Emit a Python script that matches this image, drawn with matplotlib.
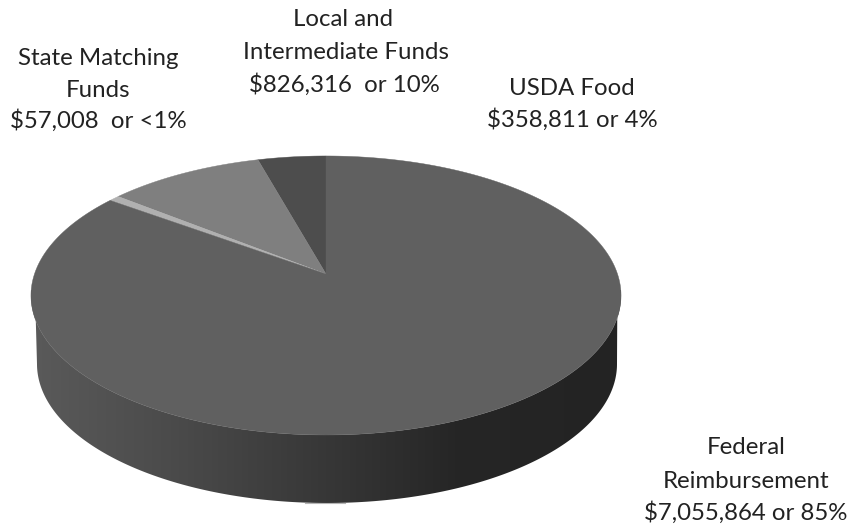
import numpy as np
import matplotlib
matplotlib.use("Agg")
import matplotlib.pyplot as plt
from matplotlib.colors import LinearSegmentedColormap
from matplotlib.patches import Polygon

categories = ["USDA Food", "Local and Intermediate Funds", "State Matching Funds", "Federal Reimbursement"]
values = [358811, 826316, 57008, 7055864]
top_colors = ["#4d4d4d", "#7f7f7f", "#b0b0b0", "#606060"]
label_lines = [
    ["USDA Food", "$358,811 or 4%"],
    ["Local and", "Intermediate Funds", "$826,316  or 10%"],
    ["State Matching", "Funds", "$57,008  or <1%"],
    ["Federal", "Reimbursement", "$7,055,864 or 85%"],
]
label_x = [[572, 572], [343.5, 346, 344], [98.5, 98.5, 98.5], [746, 746, 746]]
label_y = [[95, 127], [26, 59, 92], [65, 97, 128], [454, 488, 520]]

plt.rcParams["font.family"] = ["Lato", "DejaVu Sans"]
fig = plt.figure(figsize=(8.5, 5.27), dpi=100)
ax = fig.add_axes([0, 0, 1, 1])
ax.set_xlim(0, 850)
ax.set_ylim(527, 0)
ax.axis("off")

CX, CY = 326.0, 274.0   # apex of the tilted pie
B, A, K = 291.5, 136.2, 0.154


def project(theta):
    x, y = np.cos(theta), np.sin(theta)
    d = 1 + K * y
    return CX + B * x / d, CY - A * y / d


# side wall with horizontal shading
low = np.linspace(np.pi, 2 * np.pi, 361)
lx, ly = project(low)
bx = 327 + 290 * np.cos(low)
by = 364 - 139 * np.sin(low)
side = np.vstack([
    np.column_stack([[lx[0]], [ly[0]]]),
    np.column_stack([bx, by]),
    np.column_stack([[lx[-1]], [ly[-1]]]),
    np.column_stack([lx[::-1], ly[::-1]]),
])
cmap = LinearSegmentedColormap.from_list(
    "wall", [(0, "#5a5a5a"), (0.25, "#4a4a4a"), (0.5, "#373737"), (0.72, "#262626"), (1, "#232323")])
img = ax.imshow(np.linspace(0, 1, 300)[None, :], cmap=cmap, extent=[31, 622, 510, 290],
                aspect="auto", zorder=1)
clip = Polygon(side, closed=True, transform=ax.transData, fc="none", ec="none")
ax.add_patch(clip)
img.set_clip_path(clip)
ax.set_xlim(0, 850)
ax.set_ylim(527, 0)
ax.plot([305, 345], [502.5, 502.5], color="#b5b5b5", lw=0.8, zorder=2)

# top face: one wedge per value, counter-clockwise from 12 o'clock
fractions = np.cumsum([0] + values) / np.sum(values)
angles = np.pi / 2 + 2 * np.pi * fractions
for i, color in enumerate(top_colors):
    th = np.linspace(angles[i], angles[i + 1], max(3, int((angles[i + 1] - angles[i]) * 120)))
    wx, wy = project(th)
    ax.fill(np.r_[CX, wx], np.r_[CY, wy], color=color, lw=0.3, zorder=3)

for lines, xs, ys in zip(label_lines, label_x, label_y):
    for line, x, y in zip(lines, xs, ys):
        ax.text(x, y, line, ha="center", va="baseline", fontsize=17.3, color="#222222", zorder=5)

fig.savefig("out.png", dpi=100)
